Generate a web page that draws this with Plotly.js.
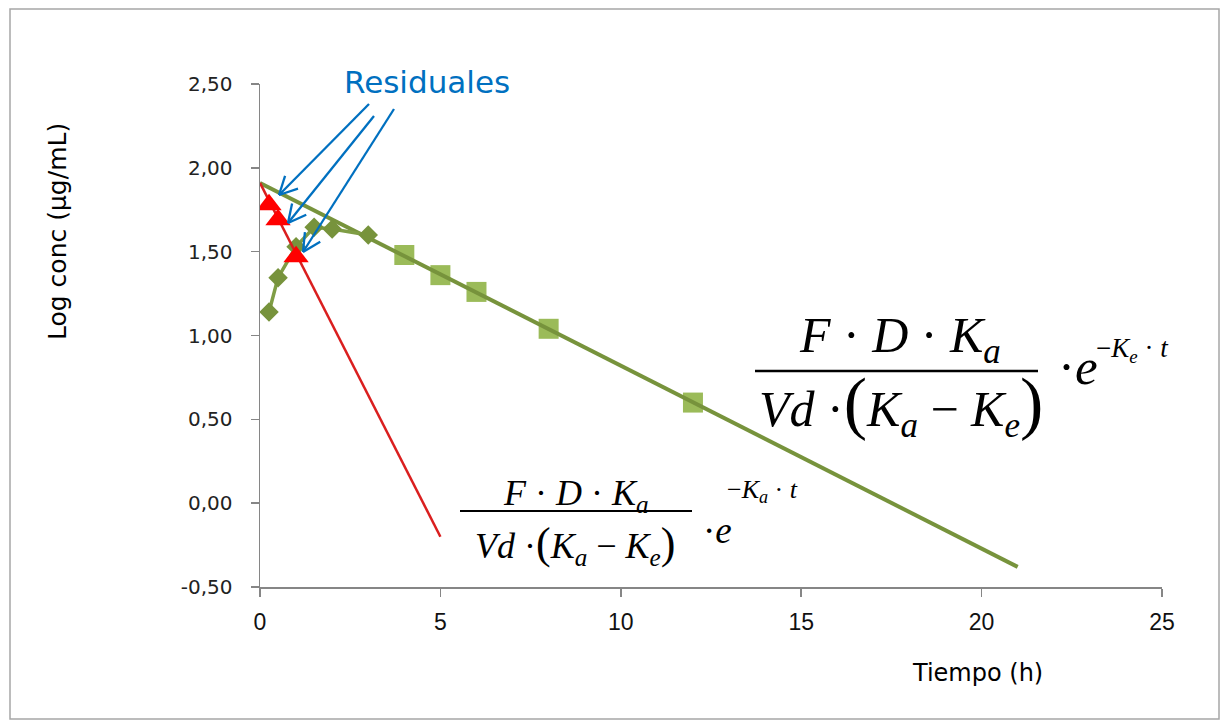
<!DOCTYPE html>
<html><head><meta charset="utf-8">
<script src="https://cdn.plot.ly/plotly-3.0.1.min.js"></script>
<style>html,body{margin:0;padding:0;background:#fff;} #chart{width:1222px;height:725px;}</style>
</head><body><div id="chart"></div>
<script>
// ---- data ----
const absorbTime = [0.25, 0.5, 1, 1.5, 2, 3];
const absorbLogConc = [1.14, 1.345, 1.53, 1.645, 1.635, 1.60];
const elimTime = [4, 5, 6, 8, 12];
const elimLogConc = [1.48, 1.36, 1.26, 1.04, 0.60];
const elimFitTime = [0, 21];
const elimFitLogConc = [1.91, -0.38];
const residualTime = [0.25, 0.5, 1];
const residualLogConc = [1.78, 1.69, 1.47];
const residualFitTime = [0, 5];
const residualFitLogConc = [1.91, -0.20];
const yTickValues = [-0.5, 0, 0.5, 1, 1.5, 2, 2.5];
const yTickLabels = ['-0,50', '0,00', '0,50', '1,00', '1,50', '2,00', '2,50'];
const xTickValues = [0, 5, 10, 15, 20, 25];
const xTickLabels = ['0', '5', '10', '15', '20', '25'];
const xTitle = 'Tiempo (h)';
const yTitle = 'Log conc (µg/mL)';
const calloutText = 'Residuales';

// ---- layout helpers (pixel -> paper) ----
const ML = 260, MR = 60, MT = 84, MB = 138, W = 1222, H = 725;
const PW = W - ML - MR, PH = H - MT - MB;
const PX = px => (px - ML) / PW;
const PY = py => (H - MB - py) / PH;
const serif = 'Liberation Serif, Times New Roman, serif';

const traces = [
  { x: elimTime, y: elimLogConc, mode: 'markers', type: 'scatter',
    marker: { symbol: 'square', size: 20, color: '#9BBB59' } },
  { x: elimFitTime, y: elimFitLogConc, mode: 'lines', type: 'scatter',
    line: { color: '#77933C', width: 4 } },
  { x: absorbTime, y: absorbLogConc, mode: 'lines+markers', type: 'scatter',
    line: { color: '#7f9d45', width: 3.5 },
    marker: { symbol: 'diamond', size: 15, color: '#77933C' } },
  { x: residualFitTime, y: residualFitLogConc, mode: 'lines', type: 'scatter',
    line: { color: '#DA1F1F', width: 2.5 } },
  { x: residualTime, y: residualLogConc, mode: 'markers', type: 'scatter',
    marker: { symbol: 'triangle-up', size: 22, color: '#FF0000' } }
];

const shapes = [];
// chart frame
shapes.push({ type: 'rect', xref: 'paper', yref: 'paper', x0: PX(10), x1: PX(1219), y0: PY(9), y1: PY(719),
  line: { color: '#a6a6a6', width: 1.5 }, fillcolor: 'rgba(0,0,0,0)', layer: 'below' });
// fraction bars
function bar(x0, x1, y, w) {
  shapes.push({ type: 'line', xref: 'paper', yref: 'paper', x0: PX(x0), x1: PX(x1), y0: PY(y), y1: PY(y),
    line: { color: '#000', width: w } });
}
bar(755, 1038, 371, 2.5);
bar(460, 692, 511, 1.8);
// arrows
function arrow(tx, ty, hx, hy) {
  const dx = tx - hx, dy = ty - hy, L = Math.hypot(dx, dy);
  const ux = dx / L, uy = dy / L, len = 20, a = 27 * Math.PI / 180;
  const c = Math.cos(a), s = Math.sin(a);
  const b1 = [hx + len * (ux * c - uy * s), hy + len * (ux * s + uy * c)];
  const b2 = [hx + len * (ux * c + uy * s), hy + len * (-ux * s + uy * c)];
  const st = { color: '#0070C0', width: 2.3 };
  [[tx, ty], b1, b2].forEach(p => shapes.push({ type: 'line', xref: 'paper', yref: 'paper',
    x0: PX(p[0]), y0: PY(p[1]), x1: PX(hx), y1: PY(hy), line: st }));
}
arrow(369, 104, 279, 195);
arrow(374, 116, 288, 223);
arrow(394, 109, 303, 252);

function txt(text, px, pyMid, size, xanchor, family) {
  return { xref: 'paper', yref: 'paper', x: PX(px), y: PY(pyMid), xanchor: xanchor || 'center', yanchor: 'middle',
    text: text, showarrow: false, font: { family: family || serif, size: size, color: '#000' } };
}
const num = '<i>F</i> · <i>D</i> · <i>K</i><sub><i>a</i></sub>';
const den = p => '<i>Vd</i> ·<span style="font-size:' + p + 'px">(</span><i>K</i><sub><i>a</i></sub> − <i>K</i><sub><i>e</i></sub><span style="font-size:' + p + 'px">)</span>';

const annotations = [
  // big formula
  txt(num, 900, 339, 50),
  txt(den(70), 901, 404, 50),
  txt('·<i>e</i>', 1056, 367, 51, 'left'),
  txt('−<i>K</i><sub><i>e</i></sub> · <i>t</i>', 1094, 350, 27, 'left'),
  // small formula
  txt(num, 576, 495, 36),
  txt(den(44), 575, 545, 36),
  txt('·<i>e</i>', 701, 530, 37, 'left'),
  txt('−<i>K</i><sub><i>a</i></sub> · <i>t</i>', 725, 491, 26, 'left'),
  // callout
  { xref: 'paper', yref: 'paper', x: PX(426.5), y: PY(82), xanchor: 'center', yanchor: 'middle', showarrow: false,
    text: calloutText, font: { family: 'DejaVu Sans, Verdana, sans-serif', size: 31, color: '#0070C0' } },
  // axis titles
  { xref: 'paper', yref: 'paper', x: PX(977), y: PY(673), xanchor: 'center', yanchor: 'middle', showarrow: false,
    text: xTitle, font: { family: 'DejaVu Sans, sans-serif', size: 24, color: '#000' } },
  { xref: 'paper', yref: 'paper', x: PX(57), y: PY(232), xanchor: 'center', yanchor: 'middle', showarrow: false,
    textangle: -90, text: yTitle, font: { family: 'DejaVu Sans, sans-serif', size: 25, color: '#000' } }
];

const layout = {
  width: W, height: H,
  margin: { l: ML, r: MR, t: MT, b: MB, pad: 0 },
  paper_bgcolor: '#fff', plot_bgcolor: '#fff',
  showlegend: false,
  xaxis: { range: [0, 25], tickvals: xTickValues, ticktext: xTickLabels, ticks: 'outside', ticklen: 8,
    tickcolor: '#868686', tickwidth: 1.5, showline: true, linecolor: '#868686', linewidth: 1.5,
    showgrid: false, zeroline: false, ticklabelstandoff: 6,
    tickfont: { family: 'Liberation Sans, Arial, sans-serif', size: 23, color: '#111' } },
  yaxis: { range: [-0.5, 2.5], tickvals: yTickValues, ticktext: yTickLabels, ticks: 'outside', ticklen: 8,
    tickcolor: '#868686', tickwidth: 1.5, showline: true, linecolor: '#868686', linewidth: 1.5,
    showgrid: false, zeroline: false, ticklabelstandoff: 14,
    tickfont: { family: 'DejaVu Sans, sans-serif', size: 20, color: '#222' } },
  shapes: shapes,
  annotations: annotations
};
Plotly.newPlot('chart', traces, layout, { displayModeBar: false, staticPlot: true });
</script></body></html>
